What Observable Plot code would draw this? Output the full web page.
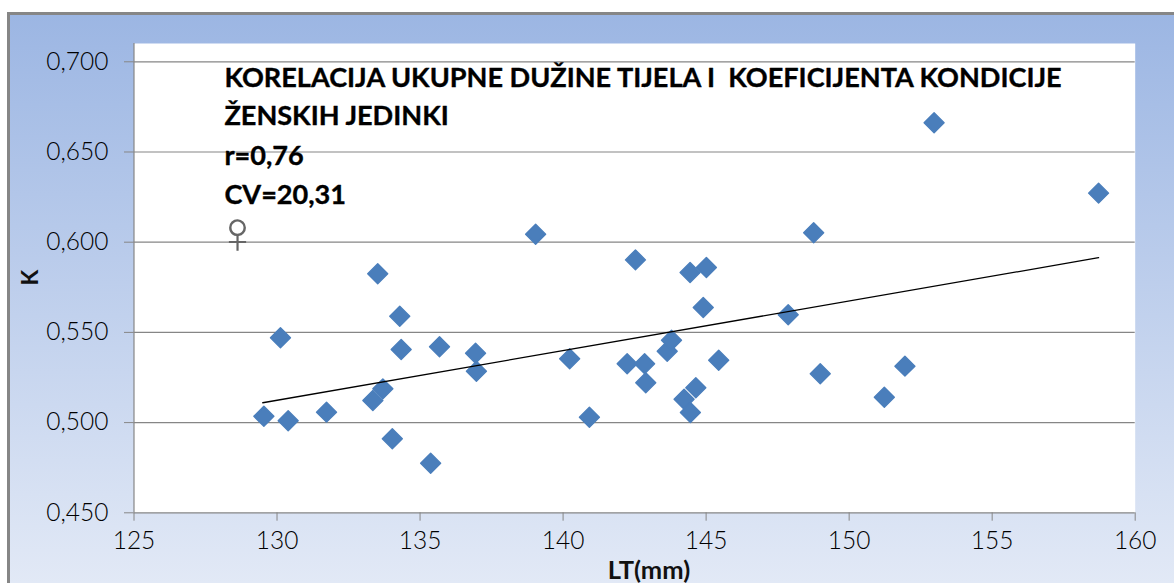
<!DOCTYPE html>
<html>
<head>
<meta charset="utf-8">
<script src="https://cdn.jsdelivr.net/npm/d3@7"></script>
<script src="https://cdn.jsdelivr.net/npm/@observablehq/plot@0.6"></script>
<style>
html, body { margin: 0; padding: 0; background: #fff; }
#page { position: relative; width: 1174px; height: 583px; overflow: hidden; }
#bg { position: absolute; left: 7px; top: 12px; right: 0; bottom: 0; box-sizing: border-box;
  border-left: 3px solid #868686; border-top: 3px solid #868686;
  background: linear-gradient(180deg, #9cb6e3 0%, #e2e9f6 100%); }
#chart { position: absolute; left: 0; top: 0; }
</style>
</head>
<body>
<div id="page"><div id="bg"></div><div id="chart"></div></div>
<script>
const lt = [129.54,130.39,130.12,131.73,133.35,133.70,133.52,134.03,134.29,134.34,135.37,135.68,136.94,136.97,139.04,140.23,140.92,142.53,142.24,142.85,142.89,143.64,143.79,144.23,144.44,144.45,144.64,144.90,145.01,145.44,147.87,148.76,148.99,151.23,151.95,152.97,158.72];
const k  = [0.5035,0.5010,0.5470,0.5058,0.5122,0.5187,0.5825,0.4910,0.5590,0.5405,0.4775,0.5420,0.5385,0.5285,0.6044,0.5354,0.5030,0.5902,0.5326,0.5326,0.5221,0.5396,0.5457,0.5130,0.5832,0.5056,0.5193,0.5638,0.5860,0.5346,0.5598,0.6052,0.5271,0.5141,0.5313,0.6662,0.6272];
const trendX = [129.50, 158.72];
const trendY = [0.5110, 0.5914];
const xTicks = [125,130,135,140,145,150,155,160];
const yTicks = [0.45,0.5,0.55,0.6,0.65,0.7];
const titleLines = ["KORELACIJA UKUPNE DUŽINE TIJELA I  KOEFICIJENTA KONDICIJE","ŽENSKIH JEDINKI","r=0,76","CV=20,31"];
const titleY = [0.6907,0.6696,0.6475,0.6258];

const points = lt.map((x,i)=>({x, y:k[i]}));
const trend = trendX.map((x,i)=>({x, y:trendY[i]}));
const titles = titleLines.map((t,i)=>({t, y:titleY[i]}));
const font = "Lato, Carlito, Calibri, sans-serif";
const gray = "#868686";

const plot = Plot.plot({
  width: 1174, height: 583,
  marginLeft: 133.5, marginRight: 39.3, marginTop: 43, marginBottom: 70.7,
  style: {background: "transparent", fontFamily: font},
  x: {domain: [125,160]},
  y: {domain: [0.45,0.71014]},
  marks: [
    Plot.frame({fill: "white", stroke: "none"}),
    Plot.ruleY(yTicks, {stroke: gray, strokeWidth: 1.2}),
    Plot.ruleX([125], {stroke: gray, strokeWidth: 1.2}),
    Plot.axisY({ticks: yTicks, tickFormat: d => d3.format(".3f")(d).replace(".", ","), tickSize: 9.5, tickPadding: 16, stroke: gray, fill: "#000", fontSize: 24.5, fontWeight: 300, label: null}),
    Plot.axisX({ticks: xTicks, tickFormat: d => String(d), tickSize: 8.4, tickPadding: 10, stroke: gray, fill: "#000", fontSize: 24.5, fontWeight: 300, label: null}),
    Plot.dot(points, {x: "x", y: "y", symbol: "diamond2", r: 9, fill: "#4a7ebb", stroke: "#4a7ebb", strokeWidth: 1.4, strokeLinejoin: "round"}),
    Plot.line(trend, {x: "x", y: "y", stroke: "#000", strokeWidth: 1.3}),
    Plot.text(titles, {x: () => 128.16, y: "y", text: "t", textAnchor: "start", fontSize: 27.1, fontWeight: 700, fill: "#000", stroke: "#000", strokeWidth: 0.35}),
    Plot.text(["♀"], {x: [128.62], y: [0.6], dy: -8.7, fontSize: 60, fontFamily: "'Liberation Sans'", fill: "#666"}),
    Plot.text(["K"], {x: [121.38], y: [0.5804], rotate: -90, fontSize: 23, fontWeight: 700, fill: "#111"}),
    Plot.text(["LT(mm)"], {x: [143.0], y: [0.418], fontSize: 25.5, fontWeight: 700, fill: "#111"})
  ]
});
document.getElementById("chart").appendChild(plot);
</script>
</body>
</html>
